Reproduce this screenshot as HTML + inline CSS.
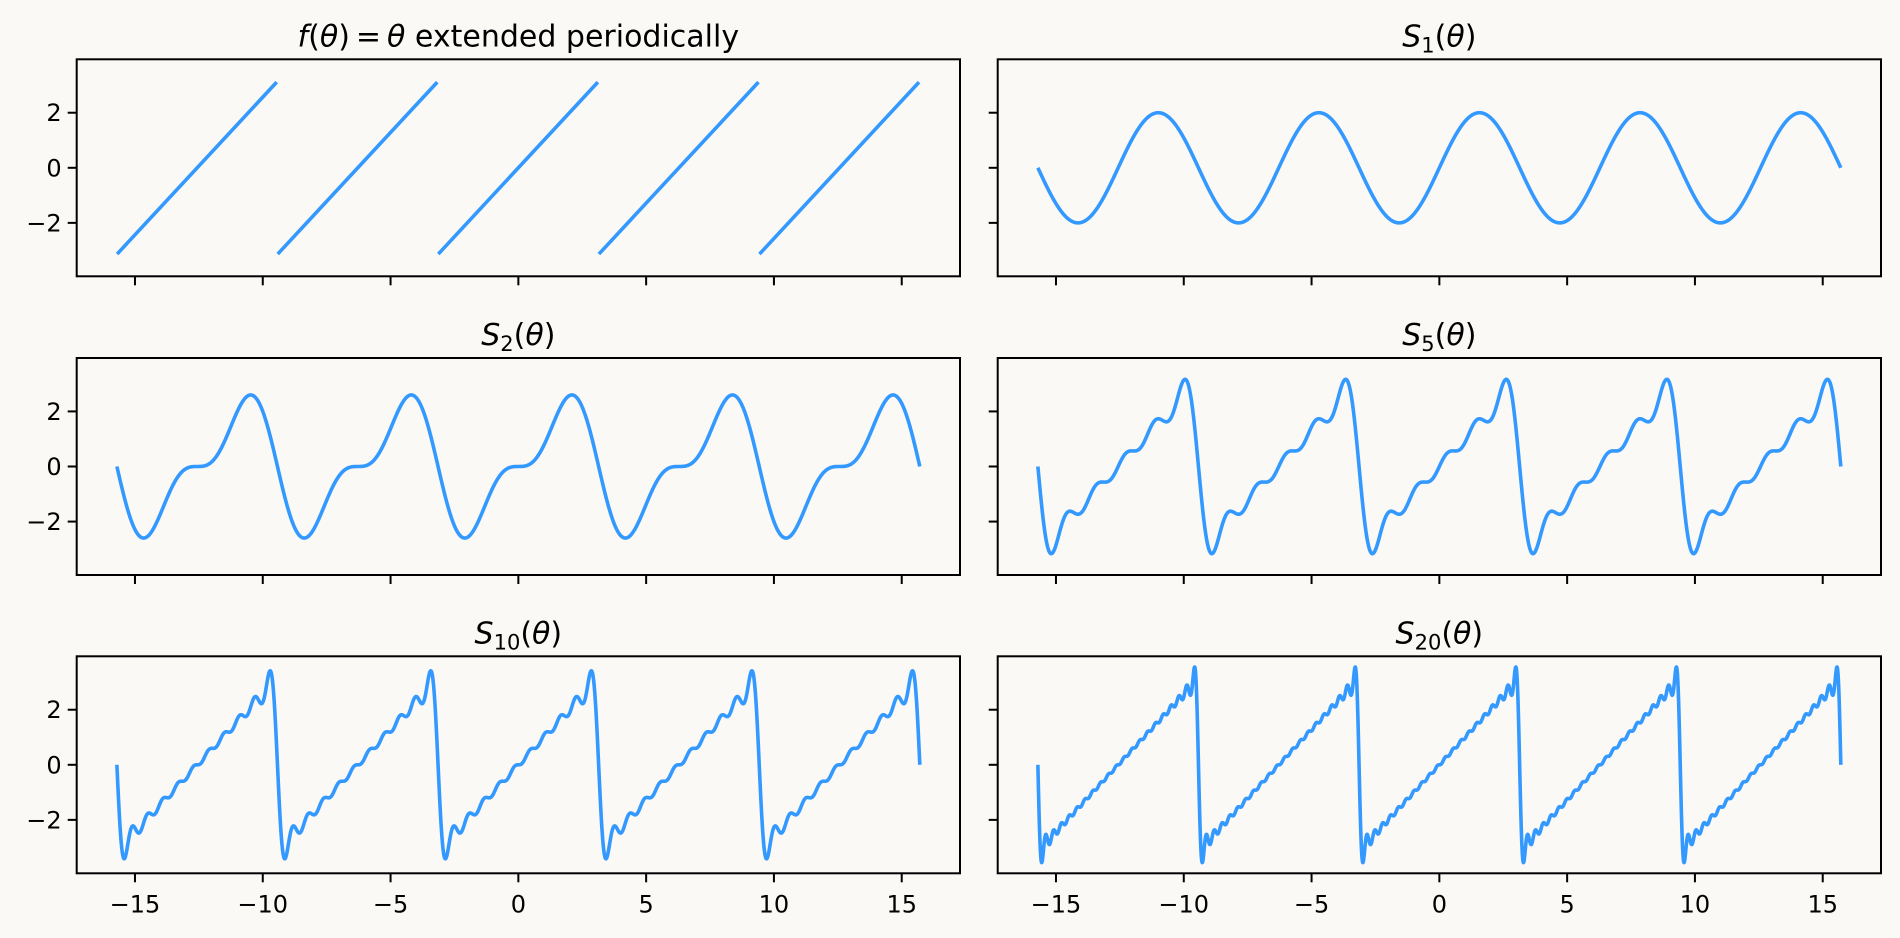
<!DOCTYPE html>
<html><head><meta charset="utf-8"><style>
html,body{margin:0;padding:0;background:#faf9f6;}
svg{display:block;}
text{font-family:"DejaVu Sans","Liberation Sans",sans-serif;fill:#000;}
</style></head><body>
<svg id="s" width="1900" height="938" viewBox="0 0 1900 938" xmlns="http://www.w3.org/2000/svg">
<rect width="1900" height="938" fill="#faf9f6"/>
</svg>
<script>
const svg=document.getElementById('s');
const NS='http://www.w3.org/2000/svg';
function el(t,a,txt){const e=document.createElementNS(NS,t);for(const k in a)e.setAttribute(k,a[k]);if(txt!==undefined)e.textContent=txt;svg.appendChild(e);return e;}
const W=883.3,H=217,HALF=108.5,YL=3.94,XL=17.28;
const cols=[76.7,997.7],rows=[59.3,358,656.3];
const PI=Math.PI;
function S(N,t){let s=0;for(let k=1;k<=N;k++)s+=2*((k%2)?1:-1)*Math.sin(k*t)/k;return s;}
const panels=[
 {r:0,c:0,type:'f',title:'f'},
 {r:0,c:1,N:1},{r:1,c:0,N:2},{r:1,c:1,N:5},{r:2,c:0,N:10},{r:2,c:1,N:20}];
for(const p of panels){
 const x0=cols[p.c],y0=rows[p.r];
 const cx=x0+W/2,cy=y0+HALF,sx=W/(2*XL),sy=HALF/YL;
 const X=v=>cx+v*sx,Y=v=>cy-v*sy;
 el('rect',{x:x0,y:y0,width:W,height:H,fill:'#faf9f6'});
 let d='';
 if(p.type==='f'){
  for(let j=-2;j<=2;j++){
   const c=j*2*PI;
   d+='M'+X(c-PI+0.01).toFixed(2)+','+Y(-PI+0.01).toFixed(2)+'L'+X(c+PI-0.03).toFixed(2)+','+Y(PI-0.03).toFixed(2);
  }
 }else{
  const n=3000;
  for(let i=0;i<=n;i++){const t=-5*PI+10*PI*i/n;d+=(i?'L':'M')+X(t).toFixed(2)+','+Y(S(p.N,t)).toFixed(2);}
 }
 el('path',{d:d,fill:'none',stroke:'#3399ff','stroke-width':3.6,'stroke-linejoin':'round','stroke-linecap':'butt'});
 el('rect',{x:x0,y:y0,width:W,height:H,fill:'none',stroke:'#000','stroke-width':2});
 for(let v=-15;v<=15;v+=5){
  const xx=X(v);
  el('line',{x1:xx,y1:y0+H,x2:xx,y2:y0+H+9,stroke:'#000','stroke-width':2});
  if(p.r===2)el('text',{x:xx,y:y0+H+39,'text-anchor':'middle','font-size':24},(v<0?'\u2212':'')+Math.abs(v));
 }
 for(const v of [-2,0,2]){
  const yy=Y(v);
  el('line',{x1:x0-9,y1:yy,x2:x0,y2:yy,stroke:'#000','stroke-width':2});
  if(p.c===0)el('text',{x:x0-15,y:yy+8.5,'text-anchor':'end','font-size':24},(v<0?'\u2212':'')+Math.abs(v));
 }
 const t=el('text',{x:cx,y:y0-13,'text-anchor':'middle','font-size':30});
 function sp(txt,a){const s=document.createElementNS(NS,'tspan');for(const k in a||{})s.setAttribute(k,a[k]);s.textContent=txt;t.appendChild(s);}
 if(p.type==='f'){
  sp('f',{'font-style':'italic'});sp('(');sp('θ',{'font-style':'italic'});sp(')\u2009=\u2009');sp('θ',{'font-style':'italic'});sp(' extended periodically');
 }else{
  sp('S',{'font-style':'italic'});sp(String(p.N),{'font-size':21,dy:6});sp('(',{dy:-6});sp('θ',{'font-style':'italic'});sp(')');
 }
}
</script>
</body></html>
